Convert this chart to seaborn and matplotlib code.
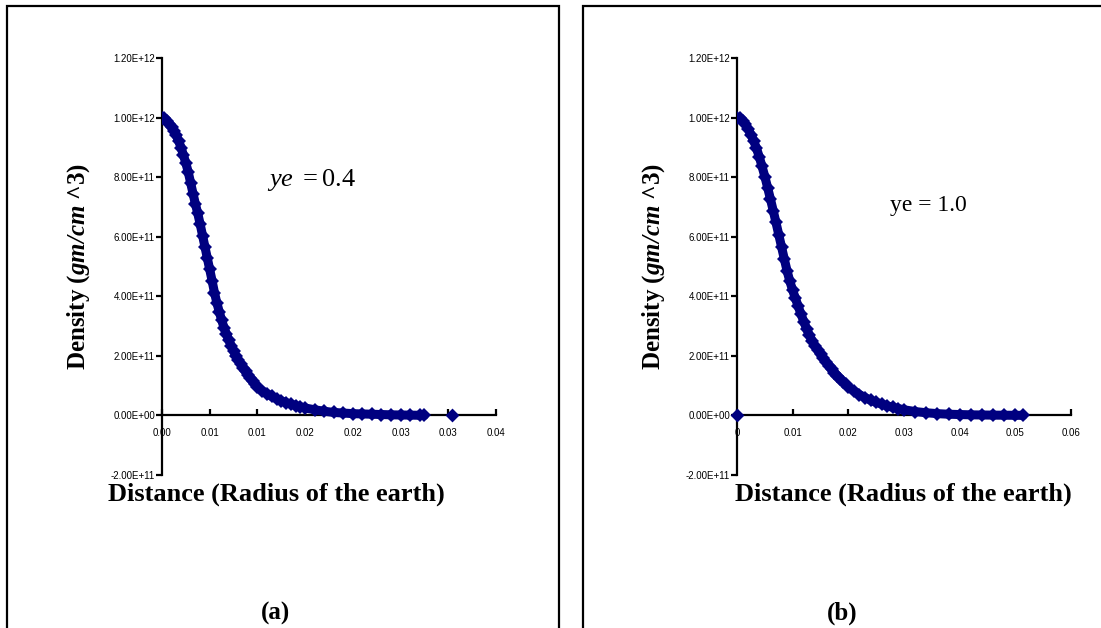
import numpy as np
import pandas as pd
import matplotlib
matplotlib.use("Agg")
import matplotlib.pyplot as plt
import seaborn as sns
from matplotlib.patches import Rectangle
from matplotlib.ticker import FuncFormatter

# panel (a): ye = 0.4, distance in earth radii, density in units of 1e12 gm/cm^3
dist_a = [0.0, 0.00025, 0.0005, 0.00075, 0.001, 0.00125, 0.0015, 0.00175, 0.002, 0.00225,
          0.0025, 0.00275, 0.003, 0.00325, 0.0035, 0.00375, 0.004, 0.00425, 0.0045, 0.00475,
          0.005, 0.00525, 0.0055, 0.00575, 0.006, 0.00625, 0.0065, 0.00675, 0.007, 0.00725,
          0.0075, 0.00775, 0.008, 0.00825, 0.0085, 0.00875, 0.009, 0.00925, 0.0095, 0.00975,
          0.01, 0.0105, 0.011, 0.0115, 0.012, 0.0125, 0.013, 0.0135, 0.014, 0.0145,
          0.015, 0.016, 0.017, 0.018, 0.019, 0.02, 0.021, 0.022, 0.023, 0.024,
          0.025, 0.026, 0.027, 0.0275]
dens_a = [1.000, 0.997, 0.990, 0.980, 0.968, 0.955, 0.940, 0.921, 0.899, 0.874,
          0.847, 0.817, 0.781, 0.745, 0.710, 0.678, 0.642, 0.604, 0.566, 0.528,
          0.490, 0.452, 0.412, 0.378, 0.348, 0.320, 0.295, 0.273, 0.253, 0.234,
          0.216, 0.200, 0.186, 0.172, 0.160, 0.148, 0.137, 0.126, 0.116, 0.105,
          0.096, 0.083, 0.073, 0.064, 0.056, 0.049, 0.043, 0.038, 0.033, 0.029,
          0.025, 0.019, 0.014, 0.010, 0.008, 0.006, 0.005, 0.004, 0.003, 0.002,
          0.0015, 0.001, 0.0005, 0.0003]
extra_a = ([0.0304], [0.0])

# panel (b): ye = 1.0
dist_b = [0.0, 0.0005, 0.001, 0.0015, 0.002, 0.0025, 0.003, 0.0035, 0.004, 0.0045,
          0.005, 0.0055, 0.006, 0.0065, 0.007, 0.0075, 0.008, 0.0085, 0.009, 0.0095,
          0.01, 0.0105, 0.011, 0.0115, 0.012, 0.0125, 0.013, 0.0135, 0.014, 0.0145,
          0.015, 0.0155, 0.016, 0.0165, 0.017, 0.0175, 0.018, 0.0185, 0.019, 0.0195,
          0.02, 0.021, 0.022, 0.023, 0.024, 0.025, 0.026, 0.027, 0.028, 0.029,
          0.03, 0.032, 0.034, 0.036, 0.038, 0.04, 0.042, 0.044, 0.046, 0.048,
          0.05, 0.0514]
dens_b = [1.000, 0.997, 0.989, 0.977, 0.962, 0.943, 0.922, 0.897, 0.868, 0.836,
          0.802, 0.765, 0.727, 0.688, 0.648, 0.607, 0.566, 0.525, 0.485, 0.450,
          0.420, 0.393, 0.366, 0.340, 0.315, 0.291, 0.269, 0.251, 0.234, 0.219,
          0.205, 0.192, 0.179, 0.167, 0.155, 0.144, 0.133, 0.123, 0.113, 0.104,
          0.096, 0.082, 0.070, 0.060, 0.051, 0.044, 0.038, 0.032, 0.027, 0.023,
          0.019, 0.013, 0.009, 0.006, 0.004, 0.003, 0.002, 0.0015, 0.001, 0.0007,
          0.0004, 0.0002]
extra_b = ([0.0], [0.0])

xticks_a = [0.0, 0.005, 0.01, 0.015, 0.02, 0.025, 0.03, 0.035]
xlabels_a = ["0.00", "0.01", "0.01", "0.02", "0.02", "0.03", "0.03", "0.04"]
xticks_b = [0.0, 0.01, 0.02, 0.03, 0.04, 0.05, 0.06]
xlabels_b = ["0", "0.01", "0.02", "0.03", "0.04", "0.05", "0.06"]
yticks = [-0.2e12, 0.0, 0.2e12, 0.4e12, 0.6e12, 0.8e12, 1.0e12, 1.2e12]

sns.set_style("white")
plt.rcParams["font.family"] = ["Liberation Serif", "DejaVu Serif"]
plt.rcParams["text.color"] = "black"
plt.rcParams["axes.labelcolor"] = "black"
plt.rcParams["xtick.color"] = "black"
plt.rcParams["ytick.color"] = "black"
plt.rcParams["mathtext.fontset"] = "custom"
plt.rcParams["mathtext.rm"] = "Liberation Serif"
plt.rcParams["mathtext.it"] = "Liberation Serif:italic"
plt.rcParams["mathtext.bf"] = "Liberation Serif:bold"
plt.rcParams["mathtext.bfit"] = "Liberation Serif:italic:bold"

W, H = 1101, 628
fig = plt.figure(figsize=(W / 100, H / 100), dpi=100)
navy = "#000080"


def px_axes(x0, x1, ytop, ybot):
    return fig.add_axes([x0 / W, 1 - ybot / H, (x1 - x0) / W, (ybot - ytop) / H])


# axes, data, note text + position, xlabel centre x, tag + centre x
panels = [
    (px_axes(162, 496, 58, 475), dist_a, dens_a, extra_a, xticks_a, xlabels_a, 0.035,
     r"$ye\ = 0.4$", (267, 180), 276, "(a)", 276, 0),
    (px_axes(737, 1071, 58, 475), dist_b, dens_b, extra_b, xticks_b, xlabels_b, 0.06,
     "ye = 1.0", (890, 205), 903, "(b)", 842, 576),
]

for i, (ax, xs, ys, extra, xt, xl, xmax, note, note_pos, xlab_x, tag, tag_x, box_x) in enumerate(panels):
    df = pd.DataFrame({"dist": xs, "dens": np.array(ys) * 1e12})
    sns.lineplot(data=df, x="dist", y="dens", ax=ax, color=navy, linewidth=6.5,
                 marker="D", markersize=7, markeredgewidth=0, sort=False,
                 estimator=None, solid_capstyle="round")
    ax.scatter(extra[0], extra[1], marker="D", s=50, color=navy, linewidths=0,
               zorder=5, clip_on=False)

    ax.set_xlim(0, xmax)
    ax.set_ylim(-0.2e12, 1.2e12)
    ax.set_xticks(xt)
    ax.set_xticklabels(xl)
    ax.set_yticks(yticks)
    ax.yaxis.set_major_formatter(FuncFormatter(lambda v, p: f"{v:.2E}"))

    for s in ["top", "right"]:
        ax.spines[s].set_visible(False)
    ax.spines["bottom"].set_position(("data", 0))
    for s in ["left", "bottom"]:
        ax.spines[s].set_linewidth(1.6)
        ax.spines[s].set_color("black")
        ax.spines[s].set_zorder(1)
    ax.tick_params(axis="y", direction="out", length=4, width=1.6, pad=1,
                   labelsize=7, labelfontfamily="Liberation Sans", left=True)
    ax.tick_params(axis="x", direction="in", length=4, width=1.6, pad=9,
                   labelsize=7, labelfontfamily="Liberation Sans", bottom=True)
    ax.patch.set_alpha(0)

    ax.set_xlabel("")
    ax.set_ylabel(r"Density ($\mathbfit{gm/cm}$ ^3)", fontsize=18, fontweight="bold")
    ax.yaxis.set_label_coords(-0.25, 0.5)
    ax.yaxis.label.set_va("center")

    fig.text(xlab_x / W, 1 - 494 / H, "Distance (Radius of the earth)",
             fontsize=19, fontweight="bold", ha="center", va="center")
    fig.text(tag_x / W, 1 - 613 / H, tag, fontsize=18, fontweight="bold",
             ha="center", va="center")
    fig.text(note_pos[0] / W, 1 - note_pos[1] / H, note, fontsize=19 if i == 0 else 17,
             ha="left", va="center")

    fig.add_artist(Rectangle(((7 + box_x) / W, -0.1), 552 / W, 1.1 - 6 / H,
                             transform=fig.transFigure, fill=False, edgecolor="black",
                             linewidth=1.6, clip_on=False))

fig.savefig("out.png", dpi=100)
